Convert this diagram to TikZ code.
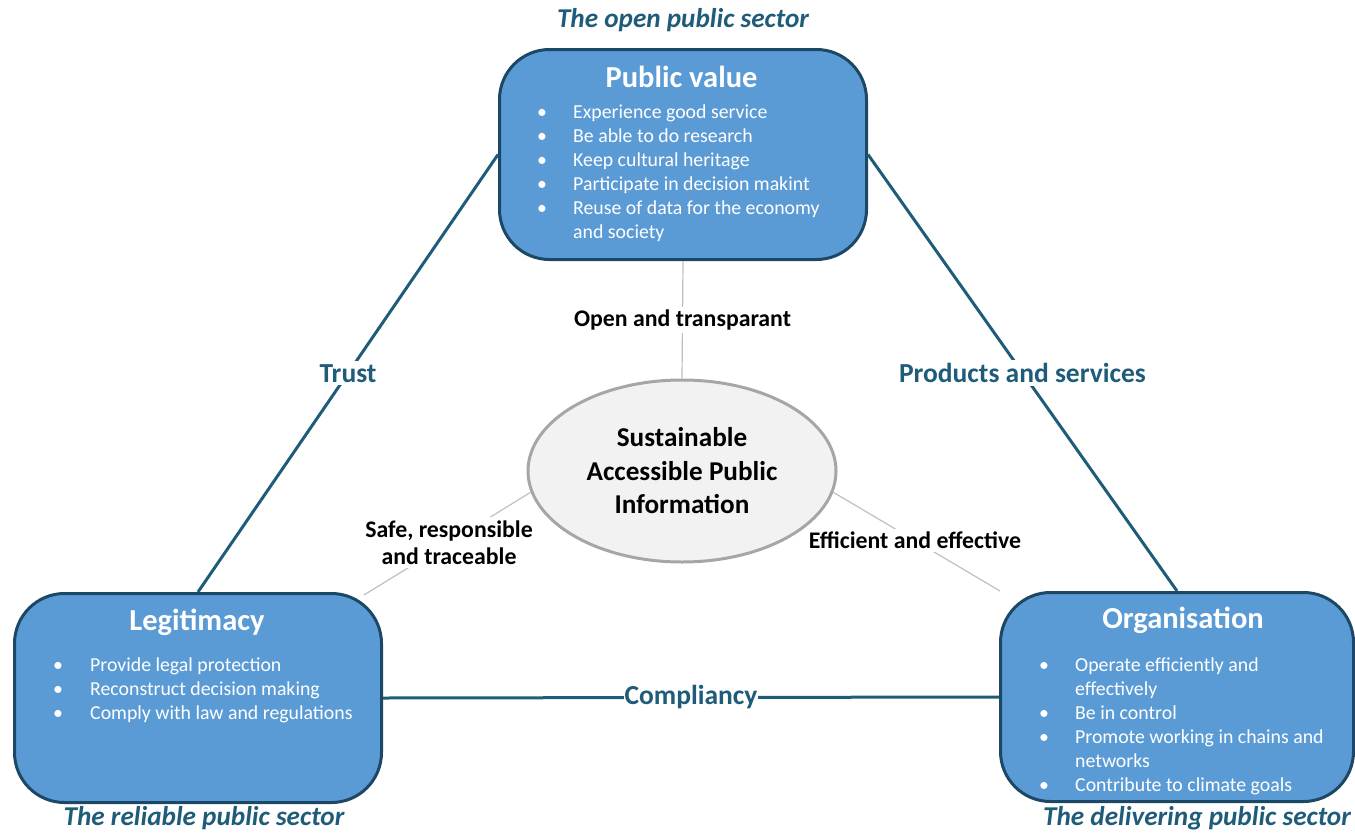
\documentclass[tikz,border=0pt]{standalone}
\usepackage{fontspec}
\setmainfont{Carlito}
\usetikzlibrary{shapes.geometric}
\definecolor{boxfill}{RGB}{91,155,213}
\definecolor{boxline}{RGB}{28,72,102}
\definecolor{conn}{RGB}{31,92,122}
\definecolor{ellfill}{RGB}{242,242,242}
\definecolor{ellline}{RGB}{166,166,166}
\definecolor{thinline}{RGB}{191,191,191}
\begin{document}
\begin{tikzpicture}[x=1pt,y=-1pt,
  box/.style={draw=boxline, line width=3pt, fill=boxfill, rounded corners=50pt, inner sep=0, anchor=north west},
  hdr/.style={anchor=base, inner sep=0, text=white, font=\bfseries\fontsize{30.5}{32}\selectfont},
  bul/.style={anchor=base, inner sep=0, text=white, font=\fontsize{19.8}{22}\selectfont},
  itm/.style={anchor=base west, inner sep=0, text=white, font=\fontsize{19.8}{22}\selectfont},
  tit/.style={anchor=base, inner sep=0, text=conn, font=\bfseries\itshape\fontsize{27.2}{30}\selectfont},
  conline/.style={draw=conn, line width=3pt},
  grayline/.style={draw=thinline, line width=1.2pt},
  lbl/.style={fill=white, inner sep=3pt, text=conn, font=\bfseries\fontsize{27.5}{30}\selectfont},
  glbl/.style={fill=white, inner sep=3pt, text=black, align=center, font=\bfseries\fontsize{23.8}{27.5}\selectfont},
  ell/.style={ellipse, draw=ellline, line width=3pt, fill=ellfill, minimum width=308pt, minimum height=182pt, inner sep=0, align=center, font=\bfseries\fontsize{27.2}{33.5}\selectfont}
]
\useasboundingbox (0,0) rectangle (1355,833);

% boxes
\node[box, minimum width=367pt, minimum height=210pt] (pv) at (498,48) {};
\node[box, minimum width=367pt, minimum height=209pt] (lg) at (13,592) {};
\node[box, minimum width=353pt, minimum height=209pt] (org) at (999,591) {};

% centre ellipse
\node[ell] (ctr) at (682,471) {Sustainable\\Accessible Public\\Information};

% main connectors
\draw[conline] (pv.west) -- (lg.north) node[lbl, pos=0.5] (trust) {Trust};
\draw[conline] (pv.east) -- (org.north) node[lbl, pos=0.5] (prod) {Products and services};
\draw[conline] (lg.east) -- (org.west) node[lbl, pos=0.5, inner sep=1pt] (comp) {Compliancy};

% thin connectors
\coordinate (lgc) at (364,595);
\coordinate (orgc) at (1000,591);
\draw[grayline] (pv.south) -- (ctr.north) node[glbl, pos=0.5] (open) {Open and transparant};
\draw[grayline] (ctr.188) -- (lgc) node[glbl, pos=0.49] (safe) {Safe, responsible\\and traceable};
\draw[grayline] (ctr.-8) -- (orgc) node[glbl, pos=0.49] (eff) {Efficient and effective};

% titles
\node[tit] (t1) at (683,27) {The open public sector};
\node[tit] (t2) at (204,825) {The reliable public sector};
\node[tit] (t3) at (1197,825) {The delivering public sector};

% Public value contents
\node[hdr] (pvh) at (681.5,87) {Public value};
\node[bul] (pvb1) at (542,118) {\textbullet};
\node[itm] (pvt1) at (573,118) {Experience good service};
\node[bul] (pvb2) at (542,142) {\textbullet};
\node[itm] (pvt2) at (573,142) {Be able to do research};
\node[bul] (pvb3) at (542,166) {\textbullet};
\node[itm] (pvt3) at (573,166) {Keep cultural heritage};
\node[bul] (pvb4) at (542,190) {\textbullet};
\node[itm] (pvt4) at (573,190) {Participate in decision makint};
\node[bul] (pvb5) at (542,214) {\textbullet};
\node[itm] (pvt5) at (573,214) {Reuse of data for the economy};
\node[itm] (pvt6) at (573,238) {and society};

% Legitimacy contents
\node[hdr] (lgh) at (197,630) {Legitimacy};
\node[bul] (lgb1) at (58,671) {\textbullet};
\node[itm] (lgt1) at (90,671) {Provide legal protection};
\node[bul] (lgb2) at (58,695) {\textbullet};
\node[itm] (lgt2) at (90,695) {Reconstruct decision making};
\node[bul] (lgb3) at (58,719) {\textbullet};
\node[itm] (lgt3) at (90,719) {Comply with law and regulations};

% Organisation contents
\node[hdr] (orgh) at (1183,628) {Organisation};
\node[bul] (ob1) at (1044,671) {\textbullet};
\node[itm] (ot1) at (1075,671) {Operate efficiently and};
\node[itm] (ot2) at (1075,695) {effectively};
\node[bul] (ob3) at (1044,719) {\textbullet};
\node[itm] (ot3) at (1075,719) {Be in control};
\node[bul] (ob4) at (1044,743) {\textbullet};
\node[itm] (ot4) at (1075,743) {Promote working in chains and};
\node[itm] (ot5) at (1075,767) {networks};
\node[bul] (ob6) at (1044,791) {\textbullet};
\node[itm] (ot6) at (1075,791) {Contribute to climate goals};
\end{tikzpicture}
\end{document}
